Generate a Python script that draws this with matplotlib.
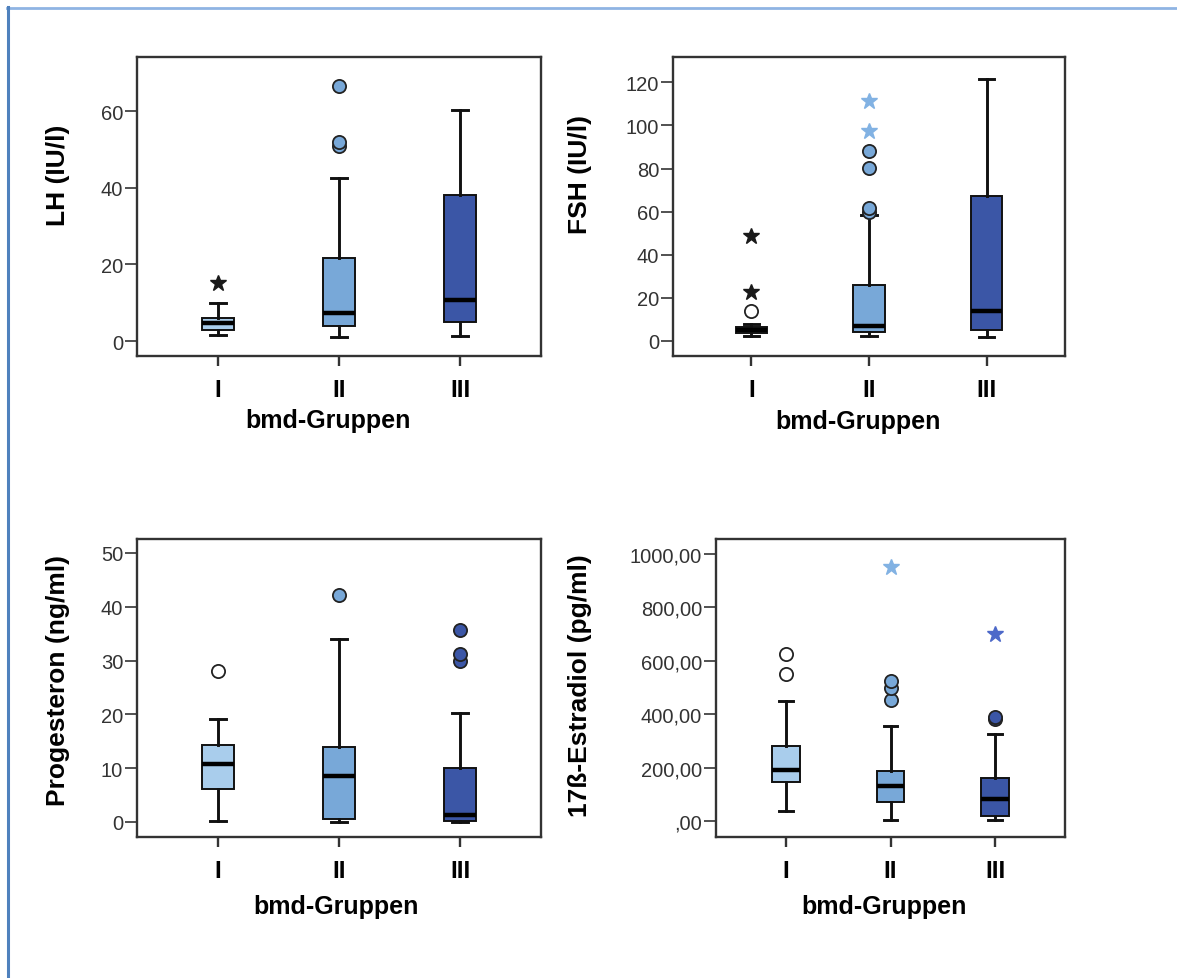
import matplotlib
matplotlib.use('Agg')

import matplotlib.pyplot as plt
from matplotlib.lines import Line2D
from matplotlib.ticker import FuncFormatter

plt.rcParams['font.family'] = ['Liberation Sans', 'DejaVu Sans']

# ── Groups and colours ───────────────────────────────────────────────────────
GROUPS = ["I", "II", "III"]
POSITIONS = [1, 2, 3]
BOX_FILLS = ["#a9cdec", "#78a8d8", "#3b56a6"]
CIRCLE_FILLS = ["#ffffff", "#78a8d8", "#3b56a6"]
STAR_COLORS = ["#1a1a1a", "#82b2e3", "#4d69c9"]

# ── LH (IU/l) ────────────────────────────────────────────────────────────────
LH_LO = [1.6, 1.0, 1.4]
LH_Q1 = [2.9, 4.0, 5.1]
LH_MED = [4.7, 7.3, 10.7]
LH_Q3 = [6.0, 21.6, 38.1]
LH_HI = [9.9, 42.5, 60.4]
LH_OUT = [[], [50.9, 52.0, 66.5], []]
LH_EXT = [[15.1], [], []]

# ── FSH (IU/l) ───────────────────────────────────────────────────────────────
FSH_LO = [2.0, 2.0, 1.9]
FSH_Q1 = [3.6, 3.9, 5.0]
FSH_MED = [5.0, 7.0, 13.7]
FSH_Q3 = [6.2, 25.9, 67.1]
FSH_HI = [7.8, 58.5, 121.6]
FSH_OUT = [[14.0], [60.0, 61.8, 80.3, 88.3], []]
FSH_EXT = [[22.8, 48.5], [97.6, 111.2], []]

# ── Progesteron (ng/ml) ──────────────────────────────────────────────────────
PRO_LO = [0.1, 0.0, 0.0]
PRO_Q1 = [6.1, 0.5, 0.2]
PRO_MED = [10.8, 8.6, 1.25]
PRO_Q3 = [14.3, 14.0, 10.0]
PRO_HI = [19.2, 34.0, 20.2]
PRO_OUT = [[28.1], [42.2], [30.0, 31.2, 35.7]]
PRO_EXT = [[], [], []]

# ── 17ß-Estradiol (pg/ml) ────────────────────────────────────────────────────
EST_LO = [40, 4, 4]
EST_Q1 = [147, 72, 20]
EST_MED = [191, 132, 85]
EST_Q3 = [281, 187, 162]
EST_HI = [449, 357, 327]
EST_OUT = [[549, 625], [455, 498, 526], [384, 390]]
EST_EXT = [[], [949], [700]]

W, H = 1177, 979


def px_axes(fig, x0, x1, y0, y1):
    return fig.add_axes([x0 / W, 1 - y1 / H, (x1 - x0) / W, (y1 - y0) / H])


def comma_fmt(v, _pos):
    s = f"{v:.2f}".replace('.', ',')
    if s.startswith('0'):
        s = s[1:]
    return s


def draw_panel(ax, lo, q1, med, q3, hi, out, ext, ylim, yticks, ylabel,
               ylab_xy, xlab_xy, fmt=None):
    stats = [dict(med=m, q1=a, q3=b, whislo=l, whishi=h, fliers=[])
             for l, a, m, b, h in zip(lo, q1, med, q3, hi)]
    res = ax.bxp(stats, positions=POSITIONS, widths=0.265, capwidths=0.13,
                 patch_artist=True, showfliers=False,
                 boxprops=dict(linewidth=1.4, edgecolor="#111111"),
                 medianprops=dict(color="black", linewidth=3.2),
                 whiskerprops=dict(color="#111111", linewidth=2.1),
                 capprops=dict(color="#111111", linewidth=2.1))
    for patch, fill in zip(res['boxes'], BOX_FILLS):
        patch.set_facecolor(fill)

    for i, vals in enumerate(out):
        if vals:
            ax.plot([POSITIONS[i]] * len(vals), vals, 'o', ms=9.5,
                    mfc=CIRCLE_FILLS[i], mec="#222222", mew=1.3, zorder=5)
    for i, vals in enumerate(ext):
        if vals:
            ax.plot([POSITIONS[i]] * len(vals), vals, '*', ms=12,
                    color=STAR_COLORS[i], mec=STAR_COLORS[i], zorder=5)

    ax.set_xlim(0.335, 3.665)
    ax.set_ylim(*ylim)
    ax.set_yticks(yticks)
    if fmt is not None:
        ax.yaxis.set_major_formatter(FuncFormatter(fmt))
    ax.set_xticks(POSITIONS)
    ax.set_xticklabels(GROUPS, fontsize=17.5, fontweight="bold")

    for sp in ax.spines.values():
        sp.set_linewidth(1.7)
        sp.set_color("#333333")
    ax.tick_params(axis='x', direction='out', length=7, width=1.7,
                   color="#333333", pad=9)
    ax.tick_params(axis='y', direction='out', length=9, width=1.2,
                   color="#333333", labelsize=14.5, labelcolor="#333333", pad=1)

    ax.set_ylabel(ylabel, fontsize=19, fontweight="bold", va='center', ha='center')
    ax.yaxis.set_label_coords(*ylab_xy)
    ax.set_xlabel("bmd-Gruppen", fontsize=18, fontweight="bold", va='center', ha='center')
    ax.xaxis.set_label_coords(*xlab_xy)


fig = plt.figure(figsize=(W / 100, H / 100), dpi=100)
fig.patch.set_facecolor("white")

ax1 = px_axes(fig, 137, 541, 58, 357)
draw_panel(ax1, LH_LO, LH_Q1, LH_MED, LH_Q3, LH_HI, LH_OUT, LH_EXT,
           (-3.9, 74.1), [0, 20, 40, 60], "LH (IU/l)",
           (-0.196, 0.609), (0.473, -0.214))

ax2 = px_axes(fig, 673, 1065, 58, 357)
draw_panel(ax2, FSH_LO, FSH_Q1, FSH_MED, FSH_Q3, FSH_HI, FSH_OUT, FSH_EXT,
           (-7.1, 131.8), [0, 20, 40, 60, 80, 100, 120], "FSH (IU/l)",
           (-0.237, 0.609), (0.472, -0.217))

ax3 = px_axes(fig, 137, 541, 540, 838)
draw_panel(ax3, PRO_LO, PRO_Q1, PRO_MED, PRO_Q3, PRO_HI, PRO_OUT, PRO_EXT,
           (-2.8, 52.6), [0, 10, 20, 30, 40, 50], "Progesteron (ng/ml)",
           (-0.196, 0.530), (0.493, -0.232))

ax4 = px_axes(fig, 716, 1065, 540, 838)
draw_panel(ax4, EST_LO, EST_Q1, EST_MED, EST_Q3, EST_HI, EST_OUT, EST_EXT,
           (-58.2, 1054.9), [0, 200, 400, 600, 800, 1000], "17ß-Estradiol (pg/ml)",
           (-0.390, 0.510), (0.481, -0.232), fmt=comma_fmt)

# page frame lines (top and left)
fig.add_artist(Line2D([7 / W, 1], [1 - 8.5 / H] * 2, color="#8fb4e3",
                      lw=2, transform=fig.transFigure))
fig.add_artist(Line2D([7.5 / W] * 2, [0, 1 - 8 / H], color="#4f81bd",
                      lw=2.2, transform=fig.transFigure))

fig.savefig("out.png", dpi=100)
